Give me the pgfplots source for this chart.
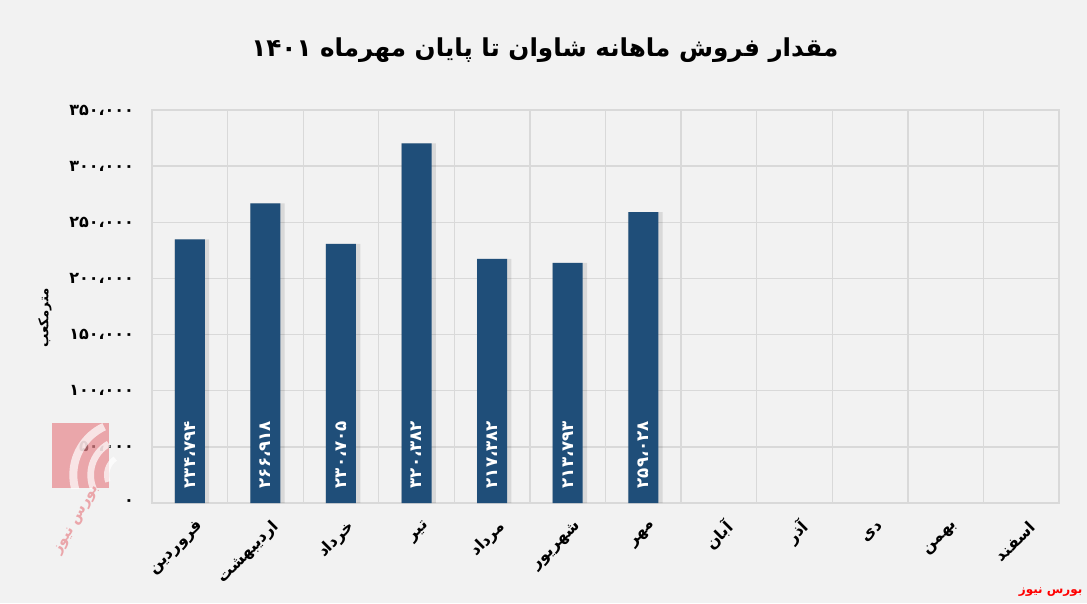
\documentclass[border=0pt]{standalone}
\usepackage{fontspec}
\usepackage{pgfplots}
\pgfplotsset{compat=1.18}
\TeXXeTstate=1
\newfontfamily\fa[Script=Arabic]{DejaVu Sans}
\newcommand{\R}[1]{{\fa\bfseries\beginR #1\endR}}

\definecolor{bg}{HTML}{F2F2F2}
\definecolor{gridc}{HTML}{D9D9D9}
\definecolor{barc}{HTML}{1F4E79}
\definecolor{logo}{HTML}{E8868C}

\begin{document}
\begin{tikzpicture}
% page background, 1087x603 px at 0.75pt per px
\fill[bg] (0,0) rectangle (815.25pt,452.25pt);

\begin{axis}[
    at={(114pt,75pt)}, anchor=south west,
    width=680.25pt, height=294.75pt, scale only axis,
    xmin=-0.5, xmax=11.5,
    ymin=0, ymax=350000,
    scaled y ticks=false,
    axis line style={gridc, line width=1pt},
    major tick length=0pt, minor tick length=0pt,
    xtick={0,...,11},
    minor xtick={0.5,1.5,...,10.5},
    xminorgrids=true, ymajorgrids=true,
    grid style={gridc, line width=1pt},
    minor grid style={gridc, line width=1pt},
    xticklabels={\R{فروردین},\R{اردیبهشت},\R{خرداد},\R{تیر},\R{مرداد},\R{شهریور},\R{مهر},\R{آبان},\R{آذر},\R{دی},\R{بهمن},\R{اسفند}},
    xticklabel style={rotate=45, anchor=east, yshift=-17pt, xshift=-2pt,
        font=\fontsize{12}{12}\selectfont},
    ytick={0,50000,...,350000},
    yticklabels={{۰},{۵۰،۰۰۰},{۱۰۰،۰۰۰},{۱۵۰،۰۰۰},{۲۰۰،۰۰۰},{۲۵۰،۰۰۰},{۳۰۰،۰۰۰},{۳۵۰،۰۰۰}},
    yticklabel style={font=\fa\bfseries\fontsize{12}{12}\selectfont, xshift=-10pt},
    axis background/.style={fill=bg},
    clip=false,
]
% soft shadow behind the bars
\addplot[ybar, bar width=26pt, bar shift=1.5pt, fill=black, draw=none, opacity=0.10]
    coordinates {(0,234794)(1,266918)(2,230705)(3,320382)(4,217382)(5,213793)(6,259028)};
\addplot[ybar, bar width=22.5pt, bar shift=0pt, fill=barc, draw=none]
    coordinates {(0,234794)(1,266918)(2,230705)(3,320382)(4,217382)(5,213793)(6,259028)};
% value labels at the foot of each bar
\addplot[draw=none, mark=none, nodes near coords, point meta=explicit symbolic,
    every node near coord/.append style={rotate=90, anchor=west, text=white,
        font=\fa\bfseries\fontsize{12.5}{12.5}\selectfont}]
    coordinates {(0,9000)[۲۳۴،۷۹۴] (1,9000)[۲۶۶،۹۱۸] (2,9000)[۲۳۰،۷۰۵] (3,9000)[۳۲۰،۳۸۲]
                 (4,9000)[۲۱۷،۳۸۲] (5,9000)[۲۱۳،۷۹۳] (6,9000)[۲۵۹،۰۲۸]};
\end{axis}

% title
\node[font=\fontsize{18.5}{18.5}\selectfont] at (408.75pt,414.75pt)
    {\R{مقدار فروش ماهانه شاوان تا پایان مهرماه ۱۴۰۱}};
% y label
\node[rotate=90, font=\fontsize{10}{10}\selectfont] at (33.75pt,213.75pt) {\R{مترمکعب}};
% source
\node[anchor=south east, inner sep=1pt, text=red, font=\fontsize{9}{9}\selectfont]
    at (813pt,4pt) {\R{بورس نیوز}};

% watermark logo
\begin{scope}[opacity=0.7]
\fill[logo] (39pt,86.25pt) rectangle (81.75pt,135pt);
\begin{scope}
\clip (39pt,86.25pt) rectangle (95pt,135pt);
\draw[white, line width=6pt] (95pt,96pt) ++(210:40pt) arc (210:115:40pt);
\draw[white, line width=5pt] (95pt,96pt) ++(205:27pt) arc (205:120:27pt);
\draw[white, line width=4pt] (95pt,96pt) ++(200:15pt) arc (200:125:15pt);
\end{scope}
\node[text=logo, rotate=60, font=\fontsize{11}{11}\selectfont] at (58pt,62pt) {\R{بورس نیوز}};
\end{scope}
\end{tikzpicture}
\end{document}
